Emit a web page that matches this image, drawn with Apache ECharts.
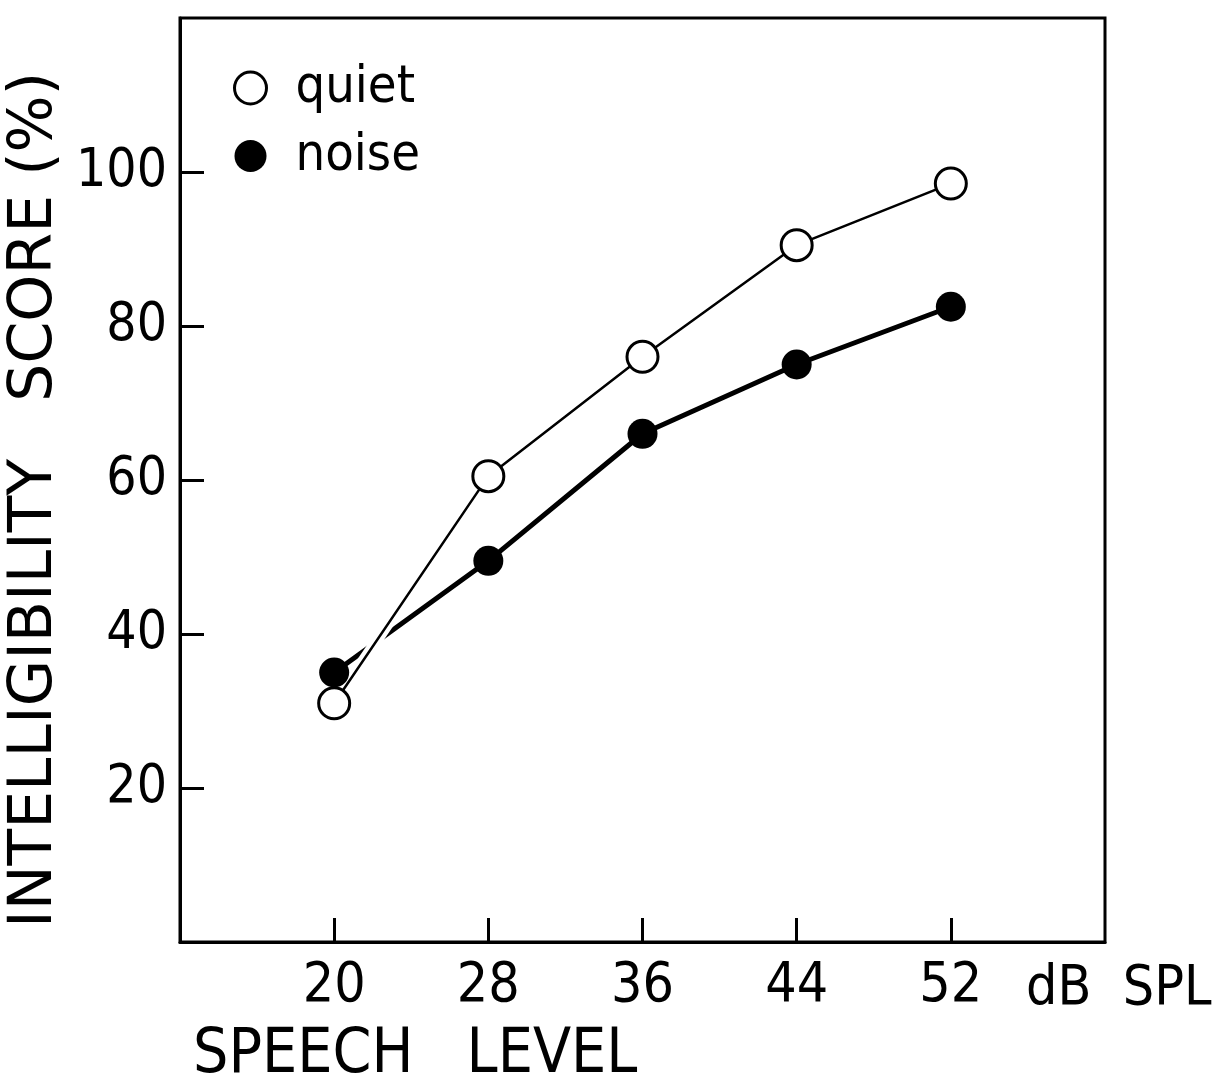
<!DOCTYPE html>
<html>
<head>
<meta charset="utf-8">
<script src="https://cdn.jsdelivr.net/npm/echarts@6/dist/echarts.min.js"></script>
<style>
  html, body { margin: 0; padding: 0; background: #fff; }
  #chart { width: 1230px; height: 1089px; }
</style>
</head>
<body>
<div id="chart"></div>
<script>
// speech level (dB SPL) and intelligibility scores (%)
const speechLevels = [20, 28, 36, 44, 52];
const quietScores = [31, 60.5, 76, 90.5, 98.5];
const noiseScores = [35, 49.5, 66, 75, 82.5];
const yTicks = [20, 40, 60, 80, 100];

const FONT = '"DejaVu Sans Condensed", "Liberation Sans", sans-serif';

const pairs = (ys) => speechLevels.map((x, i) => [x, ys[i]]);

const chart = echarts.init(document.getElementById('chart'));

const option = {
    backgroundColor: '#fff',
    animation: false,
    title: [
        {
            text: 'SPEECH   LEVEL',
            left: 188, top: 1020,
            textStyle: { fontFamily: FONT, fontSize: 62, fontWeight: 'normal', color: '#000' }
        },
        {
            text: 'dB  SPL',
            left: 1021, top: 957,
            textStyle: { fontFamily: FONT, fontSize: 55, fontWeight: 'normal', color: '#000' }
        }
    ],
    legend: {
        orient: 'vertical',
        left: 228, top: 57,
        itemWidth: 80, itemHeight: 32,
        itemGap: 16,
        textStyle: { fontFamily: FONT, fontSize: 52, color: '#000', lineHeight: 44 },
        data: [
            { name: 'quiet', icon: 'circle', itemStyle: { color: '#fff', borderColor: '#000', borderWidth: 3 } },
            { name: 'noise', icon: 'circle', itemStyle: { color: '#000', borderColor: '#000', borderWidth: 0 } }
        ]
    },
    grid: {
        left: 180, right: 125, top: 18, bottom: 147,
        outerBoundsMode: 'none',
        containLabel: false,
        show: true, borderColor: '#000', borderWidth: 3
    },
    xAxis: {
        type: 'value',
        min: 12, max: 60,
        splitLine: { show: false },
        axisLine: { lineStyle: { color: '#000', width: 3 } },
        axisTick: { inside: true, length: 24, lineStyle: { color: '#000', width: 3 }, customValues: speechLevels },
        axisLabel: {
            customValues: speechLevels,
            margin: 17,
            fontFamily: FONT, fontSize: 55, color: '#000'
        }
    },
    yAxis: {
        type: 'value',
        min: 0, max: 120, interval: 20,
        name: 'INTELLIGIBILITY   SCORE (%)',
        nameLocation: 'middle',
        nameGap: 104,
        nameTextStyle: {
            fontFamily: '"DejaVu Sans", sans-serif', fontSize: 60, color: '#000',
            padding: [0, 40, 0, 0]
        },
        splitLine: { show: false },
        axisLine: { lineStyle: { color: '#000', width: 3 } },
        axisTick: { inside: true, length: 24, lineStyle: { color: '#000', width: 3 }, customValues: yTicks },
        axisLabel: {
            customValues: yTicks,
            margin: 13,
            fontFamily: FONT, fontSize: 53, color: '#000'
        }
    },
    series: [
        {
            name: 'noise',
            type: 'line',
            z: 2,
            data: pairs(noiseScores),
            showSymbol: false,
            lineStyle: { color: '#000', width: 5 },
            itemStyle: { color: '#000' }
        },
        {
            // white halo behind the quiet line where it crosses the noise line
            name: 'halo',
            type: 'line',
            z: 3,
            data: pairs(quietScores),
            showSymbol: false,
            silent: true,
            lineStyle: { color: '#fff', width: 11 }
        },
        {
            name: 'noise',
            type: 'scatter',
            z: 4,
            data: pairs(noiseScores),
            symbol: 'circle',
            symbolSize: 30,
            itemStyle: { color: '#000', opacity: 1 }
        },
        {
            name: 'quiet',
            type: 'line',
            z: 5,
            data: pairs(quietScores),
            symbol: 'circle',
            symbolSize: 31,
            showSymbol: true,
            lineStyle: { color: '#000', width: 2.5 },
            itemStyle: { color: '#fff', borderColor: '#000', borderWidth: 3 }
        }
    ]
};

chart.setOption(option);
</script>
</body>
</html>
